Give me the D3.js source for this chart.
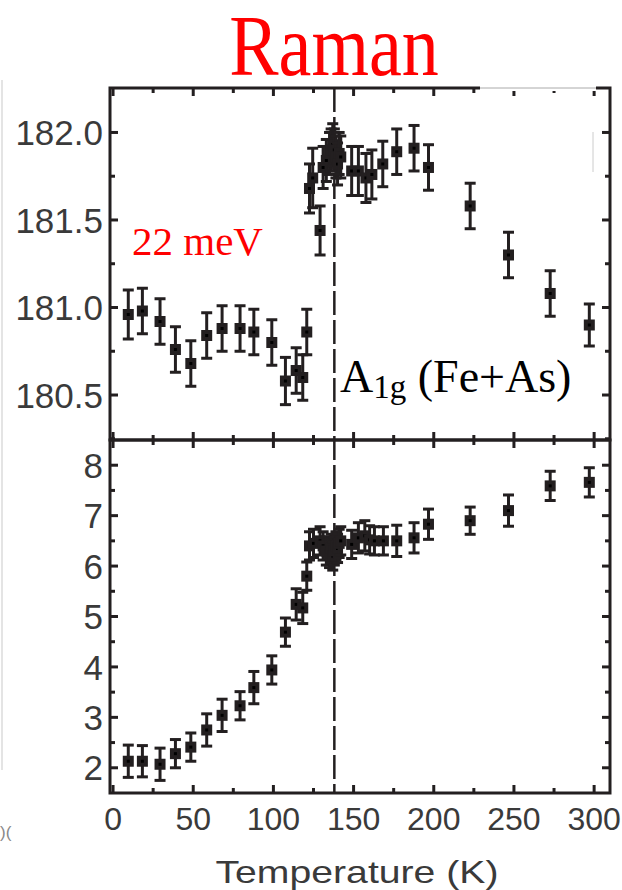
<!DOCTYPE html>
<html>
<head>
<meta charset="utf-8">
<script src="https://cdn.jsdelivr.net/npm/d3@7"></script>
<style>
  body { margin: 0; background: #fff; }
</style>
</head>
<body>
<div class="canvas"></div>
<script>
// A1g phonon: frequency (top) and linewidth (bottom) vs temperature
const topTemp = [9.5, 18.3, 29.3, 38.9, 48.5, 58.4, 68, 79.2, 87.8, 99, 107.5, 114.2, 118.3, 120.8,
  122.5, 124.5, 129.1, 131, 133, 135, 136, 137, 138, 139, 140, 141, 142,
  148.8, 153, 157.7, 161.4, 168.2, 176.9, 187.7, 196.7, 222.7, 246.6, 272.6, 297]
const topFreq = [180.96, 180.98, 180.92, 180.76, 180.68, 180.84, 180.88, 180.88, 180.86, 180.80, 180.58, 180.64, 180.60, 180.86,
  181.68, 181.74, 181.44, 181.80, 181.84, 181.88, 181.90, 181.93, 181.90, 181.86, 181.82, 181.88, 181.86,
  181.78, 181.78, 181.74, 181.76, 181.82, 181.89, 181.91, 181.80, 181.58, 181.30, 181.08, 180.90]
const topErr = [0.14, 0.13, 0.13, 0.13, 0.13, 0.13, 0.13, 0.13, 0.13, 0.13, 0.135, 0.13, 0.13, 0.13,
  0.14, 0.17, 0.14, 0.12, 0.12, 0.12, 0.12, 0.12, 0.12, 0.12, 0.12, 0.12, 0.12,
  0.14, 0.14, 0.14, 0.14, 0.13, 0.13, 0.13, 0.13, 0.13, 0.13, 0.13, 0.12]

const botTemp = [9.5, 18.3, 29.3, 38.9, 48.5, 58.4, 68, 79.2, 87.8, 99, 107.5, 114.2, 118.3, 120.8,
  122.5, 125, 129.1, 131, 133, 135, 136, 137, 138, 139, 140, 141, 142,
  148.8, 153, 157, 160, 163, 168.6, 176.9, 187.7, 196.7, 222.7, 246.6, 272.6, 297]
const botWidth = [2.13, 2.13, 2.07, 2.28, 2.41, 2.75, 3.04, 3.23, 3.59, 3.94, 4.69, 5.24, 5.17, 5.80,
  6.40, 6.45, 6.50, 6.40, 6.30, 6.25, 6.35, 6.20, 6.30, 6.40, 6.35, 6.45, 6.50,
  6.43, 6.56, 6.60, 6.52, 6.50, 6.50, 6.50, 6.56, 6.83, 6.90, 7.10, 7.59, 7.66]
const botErr = [0.32, 0.31, 0.32, 0.28, 0.28, 0.32, 0.32, 0.28, 0.32, 0.28, 0.28, 0.31, 0.31, 0.28,
  0.28, 0.28, 0.28, 0.28, 0.28, 0.28, 0.28, 0.28, 0.28, 0.28, 0.28, 0.28, 0.28,
  0.28, 0.3, 0.3, 0.28, 0.28, 0.28, 0.31, 0.3, 0.3, 0.27, 0.31, 0.29, 0.29]

const xTicks = [0, 50, 100, 150, 200, 250, 300]
const xMinor = [25, 75, 125, 175, 225, 275]
const topTicks = [180.5, 181.0, 181.5, 182.0]
const topMinor = [180.25, 180.75, 181.25, 181.75]
const botTicks = [2, 3, 4, 5, 6, 7, 8]
const botMinor = [2.5, 3.5, 4.5, 5.5, 6.5, 7.5]
const Tc = 138

const ink = '#231f20'
const padL = 110, padR = 610, padT = 88, padM = 440, padB = 793

const svg = d3.select('.canvas').append('svg')
    .attr('width', 622)
    .attr('height', 890)

const x = d3.scaleLinear().domain([-1.9, 309.9]).range([padL, padR])
const yTop = d3.scaleLinear().domain([180.243, 182.254]).range([padM, padT])
const yBot = d3.scaleLinear().domain([1.5, 8.5]).range([padB, padM])

// faint leftovers from the neighbouring panel
svg.append('line')
    .attr('x1', 2).attr('x2', 2).attr('y1', 80).attr('y2', 770)
    .attr('stroke', '#e4e4e4').attr('stroke-width', 2)
svg.append('text')
    .attr('x', 0).attr('y', 838)
    .attr('fill', '#888')
    .style('font-family', 'Liberation Sans, Arial, sans-serif')
    .style('font-size', '17px')
    .text(')(')

// title, a bit narrower than the plain serif face
svg.append('text')
    .attr('transform', 'translate(334,75) scale(0.86,1)')
    .attr('text-anchor', 'middle')
    .attr('fill', 'red')
    .style('font-family', 'Liberation Serif, Times New Roman, serif')
    .style('font-size', '86px')
    .text('Raman')

function drawPanel(y, y0, y1, majors, minors, fmt) {
  const g = svg.append('g')
  // x ticks on both horizontal edges, pointing inward
  ;[[y0, 1], [y1, -1]].forEach(([yy, dir]) => {
    g.selectAll(null).data(xTicks).enter().append('line')
        .attr('x1', d => x(d)).attr('x2', d => x(d))
        .attr('y1', yy).attr('y2', yy + dir * 8)
        .attr('stroke', ink).attr('stroke-width', 3)
    g.selectAll(null).data(xMinor).enter().append('line')
        .attr('x1', d => x(d)).attr('x2', d => x(d))
        .attr('y1', yy).attr('y2', yy + dir * 5)
        .attr('stroke', ink).attr('stroke-width', 3)
  })
  ;[[padL, 1], [padR, -1]].forEach(([xx, dir]) => {
    g.selectAll(null).data(majors).enter().append('line')
        .attr('x1', xx).attr('x2', xx + dir * 8)
        .attr('y1', d => y(d)).attr('y2', d => y(d))
        .attr('stroke', ink).attr('stroke-width', 3)
    g.selectAll(null).data(minors).enter().append('line')
        .attr('x1', xx).attr('x2', xx + dir * 5)
        .attr('y1', d => y(d)).attr('y2', d => y(d))
        .attr('stroke', ink).attr('stroke-width', 3)
  })
  g.selectAll(null).data(majors).enter().append('text')
      .attr('x', 103)
      .attr('y', d => y(d))
      .attr('dy', '0.36em')
      .attr('text-anchor', 'end')
      .attr('fill', '#3a3a3a')
      .style('font-family', 'Liberation Sans, Arial, sans-serif')
      .style('font-size', '35px')
      .text(fmt)
}

drawPanel(yTop, padT, padM, topTicks, topMinor, d => d.toFixed(1))
drawPanel(yBot, padM, padB, botTicks, botMinor, d => d)

// Tc line
svg.append('line')
    .attr('x1', x(Tc)).attr('x2', x(Tc))
    .attr('y1', padT).attr('y2', padB)
    .attr('stroke', ink).attr('stroke-width', 2.5)
    .attr('stroke-dasharray', '24,5')

// error bars + square markers
function drawPoints(temps, vals, errs, y) {
  const g = svg.append('g')
  const pts = temps.map((t, i) => ({ t: t, v: vals[i], e: errs[i] }))
  const p = g.selectAll(null).data(pts).enter().append('g')
  p.append('line')
      .attr('x1', d => x(d.t)).attr('x2', d => x(d.t))
      .attr('y1', d => y(d.v - d.e)).attr('y2', d => y(d.v + d.e))
      .attr('stroke', ink).attr('stroke-width', 3)
  ;[-1, 1].forEach(s => {
    p.append('line')
        .attr('x1', d => x(d.t) - 5.5).attr('x2', d => x(d.t) + 5.5)
        .attr('y1', d => y(d.v + s * d.e)).attr('y2', d => y(d.v + s * d.e))
        .attr('stroke', ink).attr('stroke-width', 3)
  })
  p.append('rect')
      .attr('x', d => x(d.t) - 5.5).attr('y', d => y(d.v) - 5.5)
      .attr('width', 11).attr('height', 11)
      .attr('fill', ink)
  p.append('rect')
      .attr('x', d => x(d.t) - 1.5).attr('y', d => y(d.v) - 1.5)
      .attr('width', 3).attr('height', 3)
      .attr('fill', '#000')
}

drawPoints(topTemp, topFreq, topErr, yTop)
drawPoints(botTemp, botWidth, botErr, yBot)

// frames
svg.append('rect')
    .attr('x', padL).attr('y', padT)
    .attr('width', padR - padL).attr('height', padM - padT)
    .attr('fill', 'none').attr('stroke', ink).attr('stroke-width', 3)
svg.append('rect')
    .attr('x', padL).attr('y', padM)
    .attr('width', padR - padL).attr('height', padB - padM)
    .attr('fill', 'none').attr('stroke', ink).attr('stroke-width', 3)

// pale patch over the top border
svg.append('rect')
    .attr('x', 480).attr('y', 86).attr('width', 116).attr('height', 5)
    .attr('fill', '#fff')
svg.append('line')
    .attr('x1', 480).attr('x2', 596).attr('y1', 88).attr('y2', 88)
    .attr('stroke', '#aaa').attr('stroke-width', 1)
svg.append('line')
    .attr('x1', 593).attr('x2', 593).attr('y1', 132).attr('y2', 172)
    .attr('stroke', '#ccc').attr('stroke-width', 1)

// x tick labels
svg.selectAll(null).data(xTicks).enter().append('text')
    .attr('x', d => x(d))
    .attr('y', 830)
    .attr('text-anchor', 'middle')
    .attr('fill', '#3a3a3a')
    .style('font-family', 'Liberation Sans, Arial, sans-serif')
    .style('font-size', '32px')
    .text(d => d)

svg.append('text')
    .attr('x', 357).attr('y', 883)
    .attr('text-anchor', 'middle')
    .attr('fill', '#3a3a3a')
    .attr('textLength', 283)
    .attr('lengthAdjust', 'spacingAndGlyphs')
    .style('font-family', 'Liberation Sans, Arial, sans-serif')
    .style('font-size', '32px')
    .text('Temperature (K)')

// annotations
svg.append('text')
    .attr('x', 132).attr('y', 255)
    .attr('fill', 'red')
    .style('font-family', 'Liberation Serif, Times New Roman, serif')
    .style('font-size', '41px')
    .text('22 meV')

const mode = svg.append('text')
    .attr('x', 340).attr('y', 392)
    .attr('fill', '#000')
    .style('font-family', 'Liberation Serif, Times New Roman, serif')
    .style('font-size', '46px')
mode.append('tspan').text('A')
mode.append('tspan').attr('dy', 6).style('font-size', '33px').text('1g')
mode.append('tspan').attr('dy', -6).text(' (Fe+As)')
</script>
</body>
</html>
